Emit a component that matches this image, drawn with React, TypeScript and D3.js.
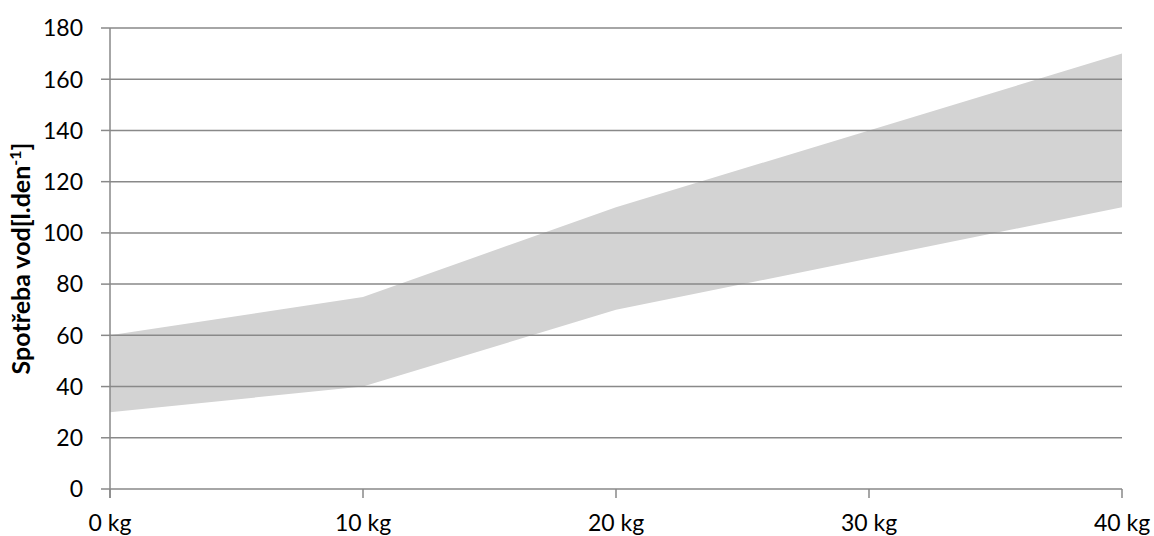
import React from "react";
import * as d3 from "d3";

const categories = ["0 kg", "10 kg", "20 kg", "30 kg", "40 kg"];
const lowerValues = [30, 40, 70, 90, 110];
const upperValues = [60, 75, 110, 140, 170];
const yTicks = [0, 20, 40, 60, 80, 100, 120, 140, 160, 180];

const W = 1154;
const H = 536;
const M = { left: 110, right: 32, top: 28, bottom: 47 };

export default function App() {
  const x = d3
    .scalePoint<string>()
    .domain(categories)
    .range([M.left, W - M.right]);
  const y = d3.scaleLinear().domain([0, 180]).range([H - M.bottom, M.top]);

  const data = categories.map((c, i) => ({ c, lo: lowerValues[i], hi: upperValues[i] }));
  const area = d3
    .area<{ c: string; lo: number; hi: number }>()
    .x((d) => x(d.c)!)
    .y0((d) => y(d.lo))
    .y1((d) => y(d.hi));

  const font = "Lato, 'Open Sans', sans-serif";
  const gridColor = "#898989";
  const x0 = x(categories[0])!;
  const x1 = x(categories[categories.length - 1])!;

  return (
    <svg width={W} height={H} style={{ position: "absolute", left: 0, top: 0 }}>
      <rect width={W} height={H} fill="#fff" />
      <path d={area(data)!} fill="#d3d3d3" />
      {yTicks.map((t) => (
        <g key={t}>
          {t !== 0 && (
            <line x1={x0} x2={x1} y1={y(t)} y2={y(t)} stroke={gridColor} strokeWidth={1.5} />
          )}
          <line x1={x0 - 9} x2={x0} y1={y(t)} y2={y(t)} stroke={gridColor} strokeWidth={1.5} />
          <text
            x={x0 - 27}
            y={y(t)}
            dy="0.36em"
            textAnchor="end"
            fontFamily={font}
            fontSize={23}
            fill="#000"
          >
            {t}
          </text>
        </g>
      ))}
      <line x1={x0} x2={x0} y1={y(180)} y2={y(0) + 9} stroke={gridColor} strokeWidth={1.5} />
      <line x1={x0} x2={x1} y1={y(0)} y2={y(0)} stroke={gridColor} strokeWidth={1.5} />
      {categories.map((c) => (
        <g key={c}>
          <line x1={x(c)!} x2={x(c)!} y1={y(0)} y2={y(0) + 9} stroke={gridColor} strokeWidth={1.5} />
          <text
            x={x(c)!}
            y={H - 5}
            textAnchor="middle"
            fontFamily={font}
            fontSize={23}
            fill="#000"
          >
            {c}
          </text>
        </g>
      ))}
      <text
        transform={`translate(30, ${(y(0) + y(180)) / 2}) rotate(-90)`}
        textAnchor="middle"
        fontFamily={font}
        fontSize={25}
        fontWeight="bold"
        fill="#000"
      >
        Spotřeba vod[l.den
        <tspan baselineShift="super" fontSize={16}>-1</tspan>
        <tspan>]</tspan>
      </text>
    </svg>
  );
}
